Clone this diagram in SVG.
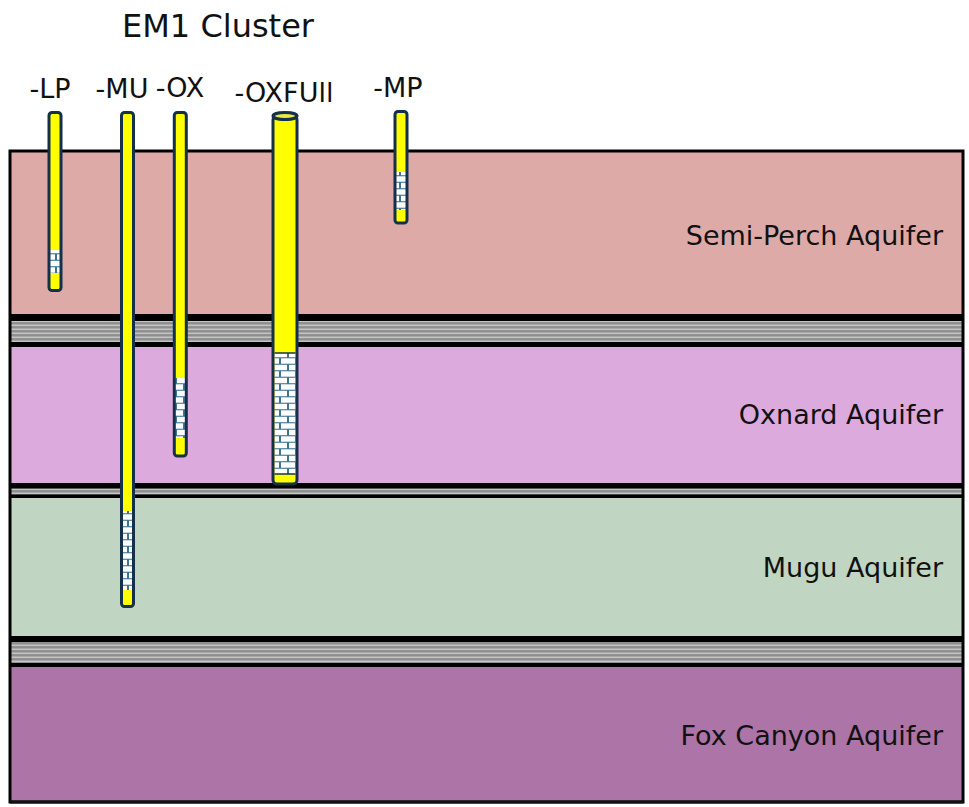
<svg xmlns="http://www.w3.org/2000/svg" width="969" height="807" viewBox="0 0 969 807">
  <style>
    .lbl { font-family: "DejaVu Sans", "Liberation Sans", sans-serif; fill: #111; }
    .title { font-size: 32px; }
    .well-lbl { font-size: 27px; }
    .layer-lbl { font-size: 27px; text-anchor: end; }
    .tube { fill: #ffff00; }
    .tube-edge { fill: none; stroke: #14304a; stroke-width: 3; }
    .screen { fill: url(#brick); }
  </style>
  <defs>
    <!-- horizontal clay striping -->
    <pattern id="clay" width="8" height="4" patternUnits="userSpaceOnUse">
      <rect width="8" height="4" fill="#8e8e8e"/>
      <rect y="0.5" width="8" height="1.6" fill="#c4c4c4"/>
    </pattern>
    <!-- well screen: white bricks on blue -->
    <pattern id="brick" width="16" height="13" patternUnits="userSpaceOnUse">
      <rect width="16" height="13" fill="#3c7697"/>
      <rect x="1" y="0.8" width="14" height="5.4" fill="#ffffff"/>
      <rect x="-7" y="7.3" width="14" height="5.4" fill="#ffffff"/>
      <rect x="9" y="7.3" width="14" height="5.4" fill="#ffffff"/>
    </pattern>
  </defs>

  <rect width="969" height="807" fill="#ffffff"/>

  <!-- aquifer layers -->
  <g id="layers">
    <rect id="semi-perch" x="10" y="151" width="953" height="165" fill="#deaaa8"/>
    <rect id="oxnard" x="10" y="345" width="953" height="140" fill="#dcaadc"/>
    <rect id="mugu" x="10" y="496" width="953" height="142" fill="#c0d6c2"/>
    <rect id="fox-canyon" x="10" y="665" width="953" height="137" fill="#ad74a8"/>
  </g>

  <!-- clay aquitards -->
  <g id="aquitards">
    <rect x="10" y="314" width="953" height="33" fill="#000"/>
    <rect x="10" y="321" width="953" height="21" fill="url(#clay)"/>
    <rect x="10" y="483" width="953" height="15" fill="#000"/>
    <rect x="10" y="488.5" width="953" height="6" fill="url(#clay)"/>
    <rect x="10" y="636" width="953" height="31" fill="#000"/>
    <rect x="10" y="642" width="953" height="21" fill="url(#clay)"/>
  </g>

  <!-- section frame -->
  <rect x="10" y="151" width="953" height="651" fill="none" stroke="#000" stroke-width="3"/>
  <line x1="10" y1="802" x2="963" y2="802" stroke="#111" stroke-width="3"/>

  <!-- layer labels -->
  <g id="layer-labels">
    <text class="lbl layer-lbl" x="943" y="245">Semi-Perch Aquifer</text>
    <text class="lbl layer-lbl" x="943" y="424">Oxnard Aquifer</text>
    <text class="lbl layer-lbl" x="943" y="577">Mugu Aquifer</text>
    <text class="lbl layer-lbl" x="943" y="745">Fox Canyon Aquifer</text>
  </g>

  <text class="lbl title" x="218" y="37" text-anchor="middle">EM1 Cluster</text>

  <!-- wells -->
  <g id="well-LP">
    <rect class="tube" x="49" y="112.5" width="12" height="178" rx="3"/>
    <rect class="screen" x="50" y="250" width="10" height="23"/>
    <rect class="tube-edge" x="49" y="112.5" width="12" height="178" rx="3"/>
    <text class="lbl well-lbl" x="50" y="98" text-anchor="middle">-LP</text>
  </g>

  <g id="well-MU">
    <rect class="tube" x="121.5" y="112.5" width="12" height="494" rx="3"/>
    <rect class="screen" x="122.5" y="511" width="10" height="79"/>
    <rect class="tube-edge" x="121.5" y="112.5" width="12" height="494" rx="3"/>
    <text class="lbl well-lbl" x="122" y="98" text-anchor="middle">-MU</text>
  </g>

  <g id="well-OX">
    <rect class="tube" x="174.3" y="112.5" width="12" height="343.5" rx="3"/>
    <rect class="screen" x="175.3" y="378" width="10" height="60"/>
    <rect class="tube-edge" x="174.3" y="112.5" width="12" height="343.5" rx="3"/>
    <text class="lbl well-lbl" x="180" y="97" text-anchor="middle">-OX</text>
  </g>

  <g id="well-OXFull">
    <rect class="tube" x="273" y="116" width="24" height="368" rx="4"/>
    <rect class="screen" x="274.5" y="353" width="21" height="121"/>
    <line x1="274.5" y1="353" x2="295.5" y2="353" stroke="#14304a" stroke-width="1.5"/>
    <line x1="274.5" y1="474" x2="295.5" y2="474" stroke="#14304a" stroke-width="1.5"/>
    <rect class="tube-edge" x="273" y="116" width="24" height="368" rx="4"/>
    <ellipse cx="285" cy="116" rx="12" ry="3.5" fill="#e8e84a" stroke="#14304a" stroke-width="3"/>
    <text class="lbl well-lbl" x="284" y="102" text-anchor="middle">-OXFUll</text>
  </g>

  <g id="well-MP">
    <rect class="tube" x="395" y="111.5" width="12" height="111.5" rx="3"/>
    <rect class="screen" x="396" y="172" width="10" height="38"/>
    <rect class="tube-edge" x="395" y="111.5" width="12" height="111.5" rx="3"/>
    <text class="lbl well-lbl" x="398" y="97" text-anchor="middle">-MP</text>
  </g>
</svg>
